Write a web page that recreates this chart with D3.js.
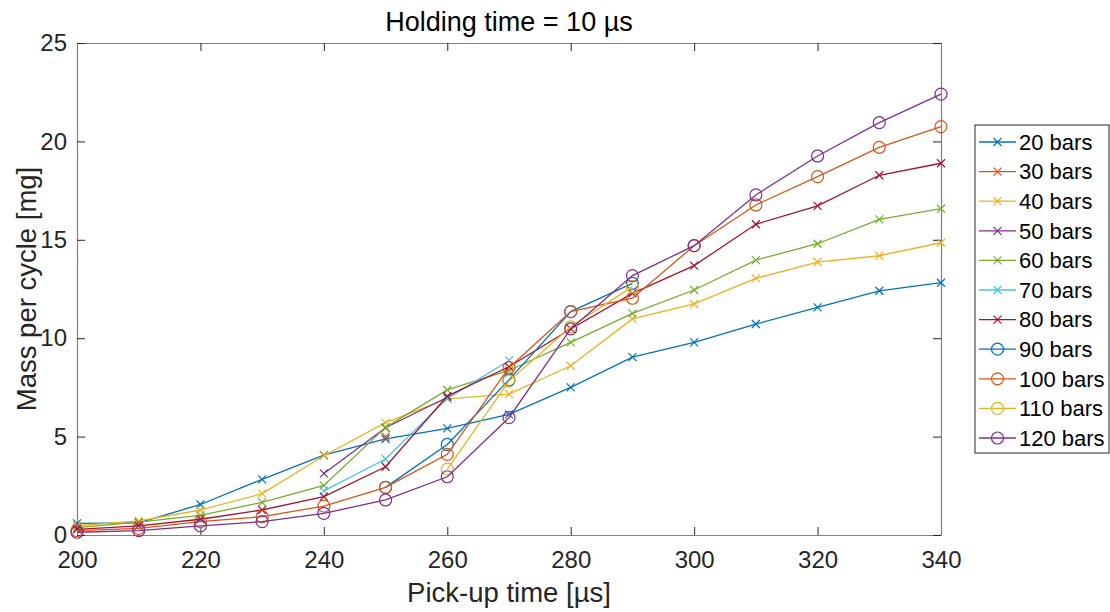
<!DOCTYPE html>
<html>
<head>
<meta charset="utf-8">
<script src="https://cdn.jsdelivr.net/npm/d3@7"></script>
<style>
  body { margin: 0; background: #fff; }
  svg { font-family: "Liberation Sans", Arial, sans-serif; }
</style>
</head>
<body>
<div id="chart"></div>
<script>
// pick-up times [µs]
const pickupTimes = [200, 210, 220, 230, 240, 250, 260, 270, 280, 290, 300, 310, 320, 330, 340];

const seriesNames = ['20 bars', '30 bars', '40 bars', '50 bars', '60 bars', '70 bars', '80 bars',
                     '90 bars', '100 bars', '110 bars', '120 bars'];

// mass per cycle [mg], null where no measurement
const bars20  = [0.59, 0.62, 1.55, 2.83, 4.06, 4.88, 5.42, 6.13, 7.50, 9.04, 9.79, 10.72, 11.57, 12.41, 12.82];
const bars30  = [null, null, null, null, null, 4.99, null, null, null, null, null, null, null, null, null];
const bars40  = [0.47, 0.72, 1.27, 2.10, 4.03, 5.71, 6.92, 7.16, 8.60, 10.98, 11.74, 13.04, 13.87, 14.19, 14.85];
const bars50  = [null, null, null, null, 3.13, 5.45, 7.00, null, null, null, null, null, null, null, null];
const bars60  = [0.37, 0.65, 1.00, 1.66, 2.52, 5.47, 7.37, 8.36, 9.79, 11.26, 12.45, 13.97, 14.80, 16.04, 16.58];
const bars70  = [null, null, null, null, 2.24, 3.86, 6.93, 8.87, null, null, null, null, null, null, null];
const bars80  = [0.29, 0.46, 0.80, 1.27, 1.95, 3.47, 7.06, 8.55, 10.47, 12.28, 13.69, 15.79, 16.72, 18.28, 18.89];
const bars90  = [null, null, null, null, null, 2.42, 4.60, 7.88, 11.35, 12.79, null, null, null, null, null];
const bars100 = [0.22, 0.34, 0.68, 0.93, 1.47, 2.42, 4.10, 8.50, 11.35, 12.03, 14.70, 16.77, 18.21, 19.70, 20.75];
const bars110 = [null, null, null, null, null, null, 3.35, 7.82, 10.58, 12.62, null, null, null, null, null];
const bars120 = [0.14, 0.22, 0.46, 0.68, 1.10, 1.78, 2.96, 5.96, 10.47, 13.18, 14.70, 17.28, 19.26, 20.95, 22.40];

const allSeries = [bars20, bars30, bars40, bars50, bars60, bars70, bars80, bars90, bars100, bars110, bars120];
const markerKinds = ['x', 'x', 'x', 'x', 'x', 'x', 'x', 'o', 'o', 'o', 'o'];

const xTicks = [200, 220, 240, 260, 280, 300, 320, 340];
const yTicks = [0, 5, 10, 15, 20, 25];

const colors = ['#0072BD', '#D95319', '#EDB120', '#7E2F8E', '#77AC30', '#4DBEEE', '#A2142F',
                '#0072BD', '#D95319', '#EDB120', '#7E2F8E'];

const width = 1110, height = 612;
const margin = { left: 77, top: 43, right: 169, bottom: 77 };
const innerW = width - margin.left - margin.right;
const innerH = height - margin.top - margin.bottom;

const svg = d3.select('#chart').append('svg')
    .attr('width', width)
    .attr('height', height);

const g = svg.append('g')
    .attr('transform', `translate(${margin.left}, ${margin.top})`);

const x = d3.scaleLinear().domain([200, 340]).range([0, innerW]);
const y = d3.scaleLinear().domain([0, 25]).range([innerH, 0]);

const axisColor = '#262626';
const tickLen = 8;

// axes with inward ticks
const xAxis = g.append('g')
    .attr('transform', `translate(0, ${innerH})`)
    .call(d3.axisBottom(x).tickValues(xTicks).tickSizeInner(-tickLen).tickSizeOuter(0).tickPadding(16));
const xTop = g.append('g')
    .call(d3.axisTop(x).tickValues(xTicks).tickSizeInner(-tickLen).tickSizeOuter(0).tickFormat(''));
const yAxis = g.append('g')
    .call(d3.axisLeft(y).tickValues(yTicks).tickSizeInner(-tickLen).tickSizeOuter(0).tickPadding(10));
const yRight = g.append('g')
    .attr('transform', `translate(${innerW}, 0)`)
    .call(d3.axisRight(y).tickValues(yTicks).tickSizeInner(-tickLen).tickSizeOuter(0).tickFormat(''));

[xAxis, xTop, yAxis, yRight].forEach(a => {
    a.select('.domain').attr('stroke', '#808080').attr('stroke-width', 1.2);
    a.selectAll('.tick line').attr('stroke', axisColor).attr('stroke-width', 1);
    a.selectAll('.tick text').attr('fill', axisColor).style('font-size', '24px');
});

// lines and markers
const line = d3.line()
    .defined(d => d.v !== null)
    .x(d => x(d.t))
    .y(d => y(d.v));

function drawMarker(sel, kind, color) {
    if (kind === 'x') {
        const s = 4;
        sel.append('path')
            .attr('d', `M${-s},${-s}L${s},${s}M${-s},${s}L${s},${-s}`)
            .attr('stroke', color).attr('stroke-width', 1.2).attr('fill', 'none');
    } else {
        sel.append('circle')
            .attr('r', 6)
            .attr('stroke', color).attr('stroke-width', 1.2).attr('fill', 'none');
    }
}

allSeries.forEach((vals, i) => {
    const pts = pickupTimes.map((t, k) => ({ t: t, v: vals[k] }));
    g.append('path')
        .datum(pts)
        .attr('d', line)
        .attr('fill', 'none')
        .attr('stroke', colors[i])
        .attr('stroke-width', 1.3);
    pts.filter(d => d.v !== null).forEach(d => {
        const m = g.append('g').attr('transform', `translate(${x(d.t)}, ${y(d.v)})`);
        drawMarker(m, markerKinds[i], colors[i]);
    });
});

// title and labels
svg.append('text')
    .attr('x', margin.left + innerW / 2)
    .attr('y', 31)
    .attr('text-anchor', 'middle')
    .style('font-size', '27px')
    .attr('fill', '#000')
    .text('Holding time = 10 µs');

svg.append('text')
    .attr('x', margin.left + innerW / 2)
    .attr('y', 602)
    .attr('text-anchor', 'middle')
    .style('font-size', '27.5px')
    .attr('fill', axisColor)
    .text('Pick-up time [µs]');

svg.append('text')
    .attr('transform', `translate(36, ${margin.top + innerH / 2}) rotate(-90)`)
    .attr('text-anchor', 'middle')
    .style('font-size', '27.5px')
    .attr('fill', axisColor)
    .text('Mass per cycle [mg]');

// legend
const legX = 975, legY = 125, legW = 134, legH = 328, legStep = 29.6;
const legend = svg.append('g');
legend.append('rect')
    .attr('x', legX).attr('y', legY)
    .attr('width', legW).attr('height', legH)
    .attr('fill', '#fff')
    .attr('stroke', '#262626').attr('stroke-width', 1);

seriesNames.forEach((name, i) => {
    const cy = legY + 17 + i * legStep;
    legend.append('line')
        .attr('x1', legX + 4).attr('x2', legX + 41)
        .attr('y1', cy).attr('y2', cy)
        .attr('stroke', colors[i]).attr('stroke-width', 1.3);
    const m = legend.append('g').attr('transform', `translate(${legX + 22.5}, ${cy})`);
    drawMarker(m, markerKinds[i], colors[i]);
    legend.append('text')
        .attr('x', legX + 44).attr('y', cy)
        .attr('dy', '0.35em')
        .style('font-size', '22px')
        .attr('fill', '#000')
        .text(name);
});
</script>
</body>
</html>
